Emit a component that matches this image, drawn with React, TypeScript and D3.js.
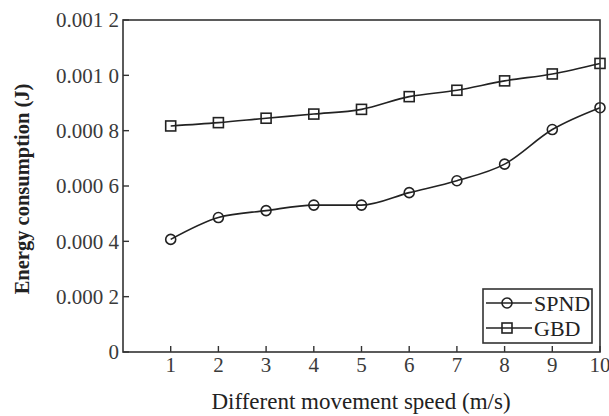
import React from "react";
import * as d3 from "d3";

const speeds = [1, 2, 3, 4, 5, 6, 7, 8, 9, 10];
const spnd = [0.000407, 0.000486, 0.000511, 0.000531, 0.000531, 0.000576, 0.000619, 0.000679, 0.000804, 0.000883];
const gbd = [0.000817, 0.000829, 0.000845, 0.00086, 0.000877, 0.000923, 0.000946, 0.00098, 0.001005, 0.001043];
const yTicks = [0, 0.0002, 0.0004, 0.0006, 0.0008, 0.001, 0.0012];
const xTicks = [1, 2, 3, 4, 5, 6, 7, 8, 9, 10];
const seriesNames = ["SPND", "GBD"];

const W = 609;
const H = 416;
const M = { left: 123, right: 600, top: 20, bottom: 352 };
const FONT = "'Liberation Serif', 'Times New Roman', serif";
const INK = "#222";

// "0.0012" -> "0.001 2" (digit grouping used on the value axis)
const fmtY = (v: number) => {
  if (v === 0) return "0";
  const s = d3.format(".4f")(v);
  return s.slice(0, 5) + " " + s.slice(5);
};

export default function App() {
  const x = d3.scaleLinear().domain([0, 10]).range([M.left, M.right]);
  const y = d3.scaleLinear().domain([0, 0.0012]).range([M.bottom, M.top]);

  const line = d3
    .line<number>()
    .x((_, i) => x(speeds[i]))
    .y((d) => y(d))
    .curve(d3.curveMonotoneX);

  const legendX = 483;
  const legendY = 289;
  const legendW = 109;
  const legendH = 54;

  const circleMarker = (cx: number, cy: number, key: string) => (
    <circle key={key} cx={cx} cy={cy} r={5} fill="none" stroke={INK} strokeWidth={1.6} />
  );
  const squareMarker = (cx: number, cy: number, key: string) => (
    <rect key={key} x={cx - 5} y={cy - 5} width={10} height={10} fill="none" stroke={INK} strokeWidth={1.6} />
  );

  return (
    <svg width={W} height={H} style={{ position: "absolute", left: 0, top: 0, background: "#fff" }}>
      {/* series lines */}
      <path d={line(gbd) || ""} fill="none" stroke={INK} strokeWidth={1.6} />
      <path d={line(spnd) || ""} fill="none" stroke={INK} strokeWidth={1.6} />
      {gbd.map((v, i) => squareMarker(x(speeds[i]), y(v), "g" + i))}
      {spnd.map((v, i) => circleMarker(x(speeds[i]), y(v), "s" + i))}

      {/* frame */}
      <rect x={M.left} y={M.top} width={M.right - M.left} height={M.bottom - M.top} fill="none" stroke="#333" strokeWidth={1.6} />

      {/* y axis ticks and labels */}
      {yTicks.map((t) => (
        <g key={"y" + t}>
          <line x1={M.left} x2={M.left + 6} y1={y(t)} y2={y(t)} stroke="#333" strokeWidth={1.4} />
          <text x={M.left - 4} y={y(t)} dy="0.35em" textAnchor="end" fontFamily={FONT} fontSize={21} fill="#3a3a3a">
            {fmtY(t)}
          </text>
        </g>
      ))}

      {/* x axis ticks and labels */}
      {xTicks.map((t) => (
        <g key={"x" + t}>
          <line x1={x(t)} x2={x(t)} y1={M.bottom} y2={M.bottom - 6} stroke="#333" strokeWidth={1.4} />
          <text x={x(t)} y={372} textAnchor="middle" fontFamily={FONT} fontSize={21} fill="#3a3a3a">
            {t}
          </text>
        </g>
      ))}

      {/* axis titles */}
      <text x={361} y={409} textAnchor="middle" fontFamily={FONT} fontSize={23} fill={INK}>
        Different movement speed (m/s)
      </text>
      <text
        transform={`translate(29, 189) rotate(-90)`}
        textAnchor="middle"
        fontFamily={FONT}
        fontSize={20.5}
        fontWeight="bold"
        fill={INK}
      >
        Energy consumption (J)
      </text>

      {/* legend */}
      <rect x={legendX} y={legendY} width={legendW} height={legendH} fill="#fff" stroke="#333" strokeWidth={1.6} />
      {seriesNames.map((name, i) => {
        const cy = legendY + 14 + i * 25;
        return (
          <g key={name}>
            <line x1={legendX + 3} x2={legendX + 49} y1={cy} y2={cy} stroke={INK} strokeWidth={1.6} />
            {i === 0 ? circleMarker(legendX + 24, cy, "lc") : squareMarker(legendX + 24, cy, "ls")}
            <text x={legendX + 51} y={cy} dy="0.35em" fontFamily={FONT} fontSize={22} fill={INK}>
              {name}
            </text>
          </g>
        );
      })}
    </svg>
  );
}
